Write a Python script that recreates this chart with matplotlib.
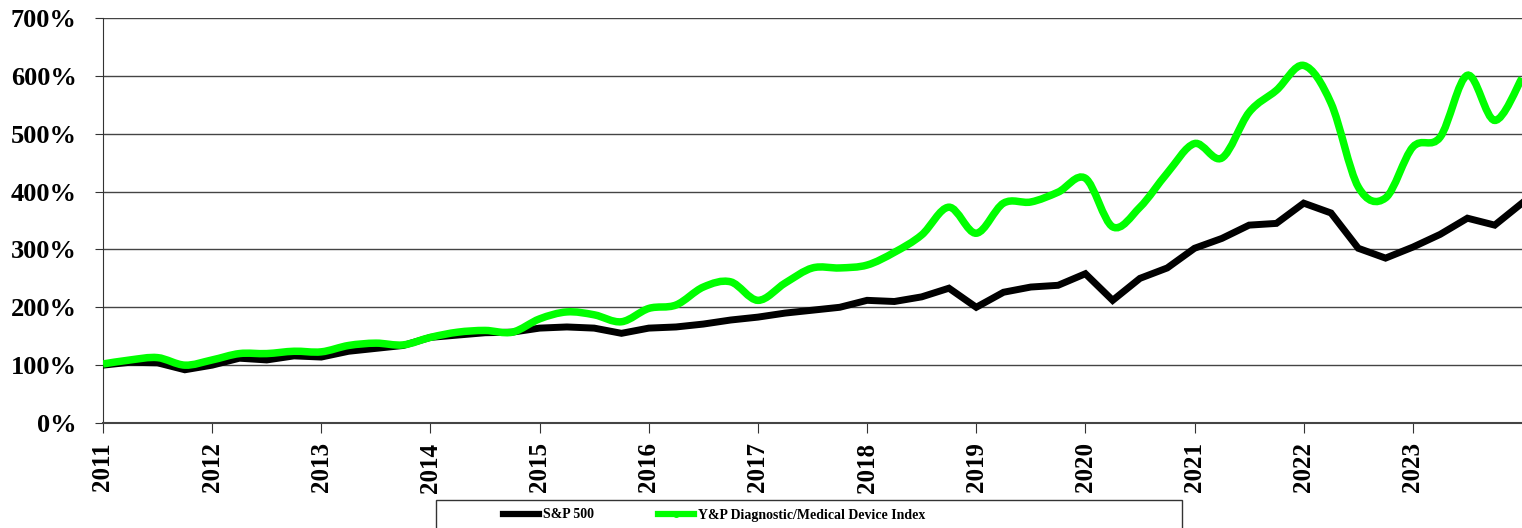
import numpy as np
import matplotlib
matplotlib.use("Agg")
import matplotlib.pyplot as plt
from matplotlib.path import Path
from matplotlib.patches import PathPatch, Rectangle
from matplotlib.lines import Line2D
from matplotlib.ticker import FuncFormatter

plt.rcParams['font.family'] = ['Liberation Serif', 'DejaVu Serif']
plt.rcParams['font.weight'] = 'bold'

# quarterly points, 2011.0 .. 2024.0
quarters = np.arange(53) / 4.0 + 2011
year_ticks = list(range(2011, 2024))

sp500 = [100, 105, 104, 92, 100, 112, 109, 116, 114, 124, 129, 134,
         148, 152, 156, 157, 164, 166, 164, 155, 164, 166, 171, 178,
         183, 190, 195, 200, 212, 210, 218, 233, 200, 226, 235, 238,
         258, 212, 250, 268, 302, 319, 342, 345, 380, 363, 302, 285,
         304, 326, 354, 342, 380]

yp_index = [102, 109, 113, 100, 109, 120, 120, 124, 123, 134, 138, 135,
            148, 157, 160, 157, 180, 192, 187, 175, 198, 204, 235, 244,
            212, 242, 268, 268, 273, 295, 325, 373, 328, 380, 382, 399,
            423, 339, 373, 432, 483, 458, 537, 575, 618, 553, 408, 389,
            477, 494, 601, 523, 596]


def smooth_path(xs, ys):
    # excel style smoothed line: cubic bezier through each point
    xs = np.asarray(xs, float)
    ys = np.asarray(ys, float)
    n = len(xs)
    px = np.concatenate([[xs[0]], xs, [xs[-1]]])
    py = np.concatenate([[ys[0]], ys, [ys[-1]]])
    verts = [(xs[0], ys[0])]
    codes = [Path.MOVETO]
    for i in range(1, n):
        c1 = (px[i] + (px[i + 1] - px[i - 1]) / 6, py[i] + (py[i + 1] - py[i - 1]) / 6)
        c2 = (px[i + 1] - (px[i + 2] - px[i]) / 6, py[i + 1] - (py[i + 2] - py[i]) / 6)
        verts += [c1, c2, (xs[i], ys[i])]
        codes += [Path.CURVE4] * 3
    return Path(verts, codes)


fig = plt.figure(figsize=(15.22, 5.28), dpi=100)
ax = fig.add_axes([103 / 1522, 1 - 423 / 528, 1 - 103 / 1522, (423 - 18) / 528])

ax.plot(quarters, sp500, color='black', lw=5, solid_joinstyle='miter', zorder=3)
ax.add_patch(PathPatch(smooth_path(quarters, yp_index), fill=False,
                       edgecolor='#00ff00', lw=5.4, zorder=4))

ax.set_xlim(2011, 2024)
ax.set_ylim(0, 700)
ax.set_yticks(range(0, 701, 100))
ax.yaxis.set_major_formatter(FuncFormatter(lambda v, p: f"{int(v)}%"))
ax.set_xticks(year_ticks)
ax.set_xticklabels([str(y) for y in year_ticks], rotation=90)

ax.grid(axis='y', color='#444444', lw=1.0)
ax.set_axisbelow(True)
for s in ['top', 'right']:
    ax.spines[s].set_visible(False)
ax.spines['left'].set_color('#333333')
ax.spines['bottom'].set_color('#444444')
ax.spines['bottom'].set_linewidth(1.5)
ax.tick_params(axis='y', length=6, color='#333333', labelsize=19, pad=13)
ax.tick_params(axis='x', length=7, color='#333333', labelsize=18, pad=7)
for lab in ax.get_xticklabels() + ax.get_yticklabels():
    lab.set_fontweight('bold')

# legend box at the bottom
fig.patches.append(Rectangle((436 / 1522, -0.05), (1182 - 436) / 1522, 0.05 + 28 / 528,
                             transform=fig.transFigure, fill=False,
                             edgecolor='#333333', lw=1))
handles = [Line2D([], [], color='black', lw=4.5),
           Line2D([], [], color='#00ff00', lw=4.5, marker='o', markersize=4)]
fig.legend(handles, ['S&P 500', 'Y&P Diagnostic/Medical Device Index'],
           loc='center left', bbox_to_anchor=(490 / 1522, 1 - 515 / 528),
           ncol=2, frameon=False, prop={'size': 10, 'weight': 'bold'},
           handlelength=2.6, handletextpad=0.3, columnspacing=4.6)

fig.savefig('out.png', dpi=100)
